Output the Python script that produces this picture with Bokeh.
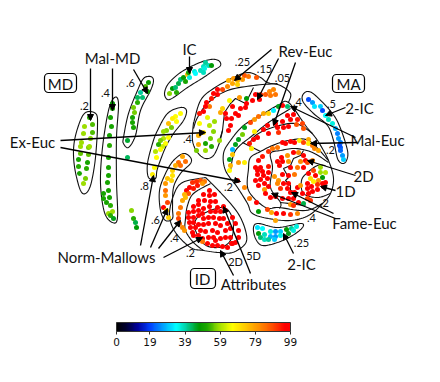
import numpy as np
from bokeh.plotting import figure
from bokeh.models import (Arrow, NormalHead, BoxAnnotation, ColorBar, LinearColorMapper,
                          FixedTicker, ColumnDataSource)
from bokeh.core.properties import value
from bokeh.embed import file_html
from bokeh.resources import INLINE

# projected points: (x, y, accuracy)
mal_md_2 = [(89,117,52),(92,124,54),(84,126,58),(92,132,54),(83,133,58),(90,138,57),(81,142,58),(88,147,56),(80,146,58),
            (89,146,58),(80,153,55),(88,154,55),(78,159,50),(87,162,50),(78,166,52),(86,168,52),(79,173,50),(85,178,56),(83,183,58)]
mal_md_4 = [(112,103,48),(112,108,50),(110,117,50),(111,126,50),(109,135,50),(109,145,52),(108,157,50),(108,167,50),(108,175,50),
            (107,182,50),(108,190,50),(103,193,50),(109,197,50),(103,198,50),(106,202,50),(110,205,52),(112,211,58),(108,213,58),(110,215,52),(113,218,46)]
mal_md_6 = [(148,82,49),(145,86,54),(147,91,49),(140,92,40),(137,97,43),(142,97,42),(137,102,52),(133,107,56),(134,112,56),
            (132,117,50),(132,122,50),(133,127,50),(127,140,45),(127,157,43)]
stray = [(131,210,57),(133,218,52),(135,222,44),(136,227,47)]
ic = [(169,93,57),(172,88,47),(175,87,42),(176,92,52),(178,83,44),(180,79,42),(183,77,48),(185,81,50),(187,74,75),(189,77,36),
      (188,72,50),(194,71,36),(195,73,34),(200,70,38),(203,66,38),(204,68,36),(208,65,38),(205,62,40),(211,65,47),(203,72,38)]
ex_8 = [(180,113,66),(175,116,66),(172,118,68),(176,121,66),(168,123,75),(171,127,56),(166,130,57),(163,131,58),(168,137,66),(163,138,60),
        (165,143,66),(160,140,56),(162,146,62),(160,149,66),(155,151,60),(156,157,66),(154,167,66),(152,174,68),(158,144,52)]
nm_6 = [(182,156,78),(178,162,85),(185,161,85),(175,165,77),(180,165,85),(172,170,72),(172,175,70),(167,178,74),(171,180,72),(165,183,80),
        (165,190,85),(165,195,80),(167,202,90),(163,207,96),(166,210,72),(168,217,72)]
nm_4 = [(200,180,88),(196,181,92),(204,181,84),(192,182,92),(202,183,80),(197,185,94),(189,187,96),(193,188,94),(186,190,96),(188,193,88),
        (184,194,76),(182,200,78),(185,197,75),(180,207,84),(178,213,84),(178,218,90),(179,223,86),(182,227,82),(184,230,80)]
id_5d = [(209,190,98),(203,194,98),(209,195,96),(214,194,98),(198,200,98),(204,200,98),(210,201,98),(215,201,98),(193,206,98),(198,204,98),
         (203,208,98),(209,206,98),(217,207,98),(223,206,98),(188,212,98),(193,211,98),(198,210,98),(202,213,98),(210,211,98),(215,211,98),
         (220,211,98),(225,210,98),(188,217,98),(193,217,98),(198,215,98),(232,217,98),(235,223,98),(193,222,98),(189,222,98),(190,227,98),
         (195,227,98),(192,232,98),(193,235,98),(238,230,98),(238,237,98),(235,242,98),(232,243,98)]
id_2d = [(203,218,98),(208,217,98),(213,217,98),(219,218,96),(223,218,98),(227,223,98),(198,224,98),(203,224,98),(208,223,98),(215,223,98),
         (220,225,98),(200,230,98),(205,231,98),(212,230,98),(217,232,98),(225,230,98),(230,228,98),(198,235,98),(202,238,98),(208,237,98),
         (213,237,98),(220,238,98),(225,237,98),(230,237,98),(202,241,84),(207,243,98),(212,245,98),(217,245,98),(222,246,98),(227,247,98),
         (231,243,98),(215,240,98)]
rev_25 = [(244,75,88),(248,76,84),(238,77,82),(233,78,80),(228,80,76),(242,79,80),(237,80,76),(256,77,88),(232,83,78),(237,84,72),(227,86,82),
          (222,89,90),(217,89,96),(213,93,96),(217,94,96),(211,98,94),(206,102,96),(209,106,84),(205,106,96),(203,111,96),(199,113,94)]
rev_15 = [(273,89,82),(269,91,82),(275,94,84),(270,95,84),(265,94,88),(260,94,92),(255,94,96),(259,99,96),(252,100,96),(246,103,96),(240,108,96),
          (245,107,96),(235,113,96),(239,97,80),(246,98,47),(232,106,98),(225,113,96),(238,115,96),(231,118,96),(226,118,96),(230,125,96),
          (228,130,96),(220,112,78),(222,108,72),(229,100,66)]
ex_4 = [(199,123,66),(207,117,64),(209,125,60),(214,121,58),(203,132,70),(198,135,76),(213,131,57),(219,140,58),(210,138,56),(205,143,50),
        (198,144,78),(211,146,52),(205,150,58),(196,150,56)]
rev_05 = [(278,106,46),(282,105,96),(287,106,42),(273,110,33),(268,113,72),(263,113,78),(258,116,85),(254,119,80),(250,122,90),(244,127,46),
          (242,134,56),(238,139,46),(235,144,46),(232,149,28),(232,154,74),(229,159,46),(238,162,80),(244,162,68),(230,165,76),(229,170,66),
          (293,114,98),(287,115,98),(297,119,94),(290,119,98),(282,121,98),(275,123,98),(267,125,98),(302,123,90),(296,124,88),(288,126,98),
          (283,127,96),(277,127,98),(263,129,98),(268,133,98),(278,132,92),(303,128,88),(254,131,68),(257,137,96),(253,139,98),(249,143,94),(251,148,68)]
ma_2 = [(282,142,96),(285,143,96),(290,141,98),(294,142,96),(299,140,68),(303,142,90),(308,139,78),(308,143,68),(312,145,84),(314,148,82),(318,150,78),
        (277,147,84),(272,148,84),(268,151,92),(262,156,94),(258,160,96),(255,167,98),(260,167,98),(268,166,94),(257,170,98),(262,171,98),(268,172,96),
        (257,174,98),(263,175,98),(255,180,98),(260,179,98),(267,178,98),(258,185,98),(264,183,98),(268,186,98),(264,189,80),(265,193,98),(270,197,98),(275,196,98),
        (282,198,98),(288,198,96),(293,198,98)]
ma_mid = [(287,155,80),(293,152,96),(298,152,82),(303,155,96),(277,161,96),(282,161,98),(288,161,80),(305,160,98),(300,161,82),(307,162,90),(312,160,82),
          (281,157,98),(279,165,96),(274,176,80),(278,180,80),(277,183,82),(283,183,96),(288,183,98),(282,174,98),(288,175,98),(294,174,84),(297,167,84),(290,167,98),(303,167,96),
          (287,188,98),(280,188,92),(290,192,98),(294,192,98),(297,187,96),(300,185,80),(302,193,96),(307,198,90),(290,204,80),(293,205,92),(298,202,98),(303,203,44),(310,200,92)]
one_d = [(320,167,58),(313,170,90),(320,172,58),(325,172,60),(308,173,96),(310,178,70),(315,175,96),(322,177,47),(313,181,68),(318,180,80),(325,182,96),(307,183,96),
         (311,186,96),(317,184,92),(322,183,96),(307,188,98),(312,191,98),(317,189,98),(323,186,96),(308,193,98)]
ma_low = [(237,180,98),(244,187,82),(249,198,84),(256,202,96),(258,211,47),(267,209,90),(271,212,78),(276,213,96),(283,213,96),(290,214,92),(297,213,82),(275,220,78)]
ic2_low = [(257,227,32),(262,228,34),(258,233,47),(264,234,38),(270,231,36),(275,231,26),(280,231,30),(286,229,47),(291,228,40),(296,226,36),
           (260,237,42),(270,236,28),(275,236,26),(280,235,36),(288,233,46),(293,230,36),(264,239,38),(268,239,40),(274,239,30)]
ic2_top = [(308,99,20),(312,102,26),(314,106,32),(320,106,30),(322,110,20),(325,115,34),(328,119,38),(332,123,36),(335,128,28),(337,133,24),
           (338,138,26),(340,142,24),(340,147,22),(339,145,20),(340,150,22),(342,155,26),(343,159,30)]
clusters = [mal_md_2, mal_md_4, mal_md_6, stray, ic, ex_8, nm_6, nm_4, id_5d, id_2d, rev_25, rev_15, ex_4, rev_05, ma_2, ma_mid, one_d, ma_low, ic2_low, ic2_top]

# colour scale
tick_values = [0, 19, 39, 59, 79, 99]
stops_v = [0, 6, 12, 19, 27, 34, 40, 47, 52, 58, 66, 73, 80, 90, 96, 99]
stops_c = ["#000000", "#00003a", "#0000a0", "#0040ff", "#00aaff", "#00ffff", "#00cc99", "#009900",
           "#22aa00", "#99dd00", "#ffff00", "#ffcc00", "#ff9900", "#ff4400", "#ff0000", "#ff0000"]

# region outlines
closed_outlines = [
    [(89,111),(96,114),(97,125),(96,145),(94,165),(90,185),(85,193),(80,190),(75,172),(73,155),(74,140),(78,125),(83,114)],
    [(114,97),(118,103),(116,137),(116,180),(117,217),(112,222),(104,212),(100,183),(102,147),(108,110)],
    [(150,76),(153,80),(150,90),(140,110),(135,135),(128,147),(123,143),(123,137),(128,113),(137,90),(143,78)],
    [(167,99),(164,93),(168,83),(180,72),(197,63),(210,59),(218,60),(220,65),(213,70),(203,77),(187,87),(173,97)],
    [(302,95),(307,91),(315,95),(332,113),(340,128),(347,150),(346,160),(342,163),(337,158),(333,140),(327,125),(313,113),(303,102)],
    [(253,227),(258,223),(277,227),(300,223),(302,227),(292,235),(277,242),(262,245),(255,238)],
    [(180,107),(186,110),(183,120),(173,133),(165,147),(157,168),(155,178),(148,177),(147,163),(152,143),(157,130),(167,113)],
    [(183,153),(190,157),(190,163),(180,173),(173,187),(172,207),(172,218),(165,220),(160,210),(159,190),(165,173),(173,160)],
    [(223,207),(203,213),(195,220),(195,230),(203,243),(213,247),(225,245),(232,235),(232,218)],
    [(288,102),(305,125),(317,140),(328,160),(333,178),(330,193),(322,203),(308,215),(290,220),(268,218),(252,213),(247,203),(237,187),(225,170),(223,153),(230,140),(243,125),(260,115),(277,105)],
]
open_outlines = [
    [(205,177),(182,182),(173,195),(169,215),(175,232),(190,247),(203,250),(218,252),(232,252),(245,243),(245,230),(237,212),(220,192),(205,177)],
    [(210,183),(193,193),(187,205),(185,218),(185,230),(193,242),(203,250)],
    [(193,123),(200,100),(213,88),(233,77),(248,72),(260,77),(267,82),(280,85),(290,93),(288,102)],
    [(193,128),(197,117),(208,102),(227,90),(253,85),(277,83)],
    [(193,122),(192,140),(197,152),(205,158),(213,155),(219,142),(222,130)],
    [(230,170),(235,150),(252,135),(268,122),(290,108)],
    [(248,145),(255,135),(272,127),(295,123),(312,133)],
    [(328,160),(308,140),(288,140),(272,145),(260,151),(250,157),(248,168),(248,190),(265,207),(278,207),(305,210),(322,203)],
    [(328,162),(312,152),(295,148),(280,150),(270,153),(272,167),(270,187),(280,202),(279,208)],
    [(280,202),(305,205)],
    [(325,165),(317,165),(307,172),(301,180),(303,193),(317,197),(330,193)],
]
zigzag_lines = [
    [(253,87),(248,97),(245,103),(235,98),(230,103),(224,112),(222,130),(219,140)],
    [(303,150),(300,155),(293,158),(290,165),(283,168),(288,177),(285,180),(290,185),(290,190),(297,192)],
    [(242,142),(260,151)],
]

arrows = [((90,68),(90,120)),((112,68),(112,110)),((133,69),(147,93)),((189,56),(189,73)),
          ((60,140),(205,132)),((60,147),(240,181)),
          ((271,49),(234,80)),((278,58),(257,99)),((295,62),(273,125)),
          ((355,137),(290,106)),((357,142),(310,143)),((355,175),(307,160)),((335,190),(320,186)),
          ((335,218),(271,193)),((333,213),(291,192)),((293,253),(283,233)),
          ((140,245),(153,175)),((150,247),(167,208)),((158,248),(180,220)),((163,257),(202,237)),
          ((233,275),(220,250)),((250,273),(223,206)),((345,107),(325,115))]
big_labels = [("Mal-MD",112,57),("IC",189,48),("Ex-Euc",32,141),("Rev-Euc",305,50),("2-IC",359,107),("Mal-Euc",377,139),
              ("2D",363,175),("1D",345,190),("Fame-Euc",364,222),("2-IC",301,263),("Norm-Mallows",106,256),("Attributes",253,283),
              ("MD",60,83),("MA",348,83),("ID",202,278)]
small_labels = [(".2",84,105),(".4",105,92),(".6",130,82),(".25",242,61),(".15",264,68),(".05",282,77),(".4",297,101),(".5",331,103),
                (".4",187,138),(".8",144,185),(".6",155,219),(".4",174,237),(".2",190,252),(".2",228,186),(".2",330,149),(".2",324,202),
                (".4",311,217),(".25",301,242),("2D",235,261),("5D",253,255)]
boxes = [(44,76,73,92),(332,364,74,92),(190,215,268,288)]

def smooth(pts, closed):
    pts = np.array(pts, float)
    if closed:
        pts = np.vstack([pts[-1], pts, pts[0], pts[1]])
    else:
        pts = np.vstack([pts[0], pts, pts[-1]])
    out = []
    for i in range(1, len(pts) - 2):
        p0, p1, p2, p3 = pts[i-1], pts[i], pts[i+1], pts[i+2]
        for t in np.linspace(0, 1, 10):
            out.append(0.5*(2*p1 + (p2-p0)*t + (2*p0-5*p1+4*p2-p3)*t*t + (3*p1-p0-3*p2+p3)*t**3))
    return np.array(out)

p = figure(width=432, height=374, x_range=(0, 432), y_range=(374, 0), output_backend="svg",
           toolbar_location=None, min_border=0, outline_line_color=None)
p.axis.visible = False
p.grid.visible = False

xs, ys = [], []
for c in closed_outlines:
    s = smooth(c, True); xs.append(s[:, 0].tolist()); ys.append(s[:, 1].tolist())
for c in open_outlines:
    s = smooth(c, False); xs.append(s[:, 0].tolist()); ys.append(s[:, 1].tolist())
for c in zigzag_lines:
    xs.append([q[0] for q in c]); ys.append([q[1] for q in c])
p.multi_line(xs, ys, line_color="#111111", line_width=1.1)

all_pts = [q for c in clusters for q in c]
palette = []
rgb = np.array([[int(c[i:i+2], 16) for i in (1, 3, 5)] for c in stops_c], float)
for v in np.linspace(0, 99, 200):
    palette.append("#%02x%02x%02x" % tuple(int(round(np.interp(v, stops_v, rgb[:, k]))) for k in range(3)))
mapper = LinearColorMapper(palette=palette, low=0, high=99)
src = ColumnDataSource(dict(x=[q[0] for q in all_pts], y=[q[1] for q in all_pts], v=[q[2] for q in all_pts]))
p.scatter("x", "y", source=src, size=5, line_color=None, fill_color={"field": "v", "transform": mapper})

for (a, b) in arrows:
    p.add_layout(Arrow(end=NormalHead(size=6, fill_color="black", line_color="black"),
                       x_start=a[0], y_start=a[1], x_end=b[0], y_end=b[1], line_width=1.3, line_color="black"))

for (l, r, t, b) in boxes:
    p.add_layout(BoxAnnotation(left=l, right=r, top=t, bottom=b, fill_alpha=0, line_color="black", line_alpha=1, line_width=1.2, border_radius=4))

p.text([q[1] for q in big_labels], [q[2] for q in big_labels], text=[q[0] for q in big_labels], text_font=value("Lato"),
       text_font_size="15px", text_align="center", text_baseline="middle", text_color="#111111")
p.text([q[1] for q in small_labels], [q[2] for q in small_labels], text=[q[0] for q in small_labels], text_font=value("Lato"),
       text_font_size="11px", text_align="center", text_baseline="middle", text_color="#111111")

cb = ColorBar(color_mapper=mapper, ticker=FixedTicker(ticks=tick_values), location=(116, 26), width=174, height=9,
              orientation="horizontal", padding=0, margin=0, bar_line_color="#333333", major_tick_line_color="#333333",
              major_tick_in=0, major_tick_out=3, major_label_text_font="DejaVu Sans", major_label_text_font_size="10.5px",
              major_label_text_color="#111111", background_fill_alpha=0, border_line_color=None, label_standoff=3)
p.add_layout(cb, "center")

open("out.html", "w").write(file_html(p, INLINE))
